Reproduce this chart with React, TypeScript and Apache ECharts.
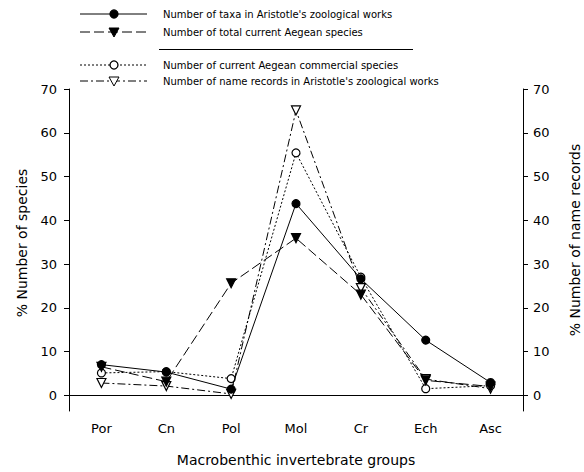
import React, { useEffect, useRef } from "react";
import * as echarts from "echarts";

const categories = ["Por", "Cn", "Pol", "Mol", "Cr", "Ech", "Asc"];
const taxaAristotle = [7.0, 5.3, 1.4, 43.8, 26.6, 12.6, 2.9];
const totalAegean = [6.5, 3.1, 25.6, 35.9, 23.0, 3.4, 2.0];
const commercialAegean = [5.1, 5.4, 3.8, 55.4, 27.0, 1.5, 2.2];
const nameRecords = [2.8, 2.1, 0.3, 65.1, 24.5, 3.7, 1.5];
const yTicks = [0, 10, 20, 30, 40, 50, 60, 70];
const legendNames = [
  "Number of taxa in Aristotle's zoological works",
  "Number of total current Aegean species",
  "Number of current Aegean commercial species",
  "Number of name records in Aristotle's zoological works",
];
const leftTitle = "% Number of species";
const rightTitle = "% Number of name records";
const xTitle = "Macrobenthic invertebrate groups";

const FONT = "DejaVu Sans";

export default function App() {
  const ref = useRef<HTMLDivElement>(null);
  useEffect(() => {
    if (!ref.current) return;
    const chart = echarts.init(ref.current, undefined, { renderer: "svg" });

    const rowsY = [14, 32, 65, 81];
    const styles = [
      { dash: "solid" as any, sym: "circle", fill: "#000" },
      { dash: [10, 4], sym: "tri", fill: "#000" },
      { dash: [2, 2], sym: "circle", fill: "#fff" },
      { dash: [8, 3, 2, 3], sym: "tri", fill: "#fff" },
    ];
    const graphics: any[] = [];
    legendNames.forEach((name, i) => {
      const y = rowsY[i];
      const st = styles[i];
      graphics.push({
        type: "line",
        shape: { x1: 80, y1: y, x2: 147, y2: y },
        style: { stroke: "#000", lineWidth: 1, lineDash: st.dash === "solid" ? null : st.dash },
      });
      if (st.sym === "circle") {
        graphics.push({
          type: "circle",
          shape: { cx: 114, cy: y, r: 4 },
          style: { fill: st.fill, stroke: "#000", lineWidth: 1.3 },
        });
      } else {
        graphics.push({
          type: "polygon",
          shape: { points: [[109, y - 4], [119, y - 4], [114, y + 5]] },
          style: { fill: st.fill, stroke: "#000", lineWidth: 1 },
        });
      }
      graphics.push({
        type: "text",
        x: 163,
        y: y,
        style: {
          text: name,
          fill: "#000",
          font: `10px '${FONT}'`,
          verticalAlign: "middle",
          align: "left",
        },
      });
    });
    graphics.push({
      type: "line",
      shape: { x1: 159, y1: 49.5, x2: 413, y2: 49.5 },
      style: { stroke: "#000", lineWidth: 1 },
    });
    graphics.push({
      type: "text",
      x: 22,
      y: 243,
      rotation: Math.PI / 2,
      style: { text: leftTitle, fill: "#000", font: `14px '${FONT}'`, align: "center", verticalAlign: "middle" },
    });
    graphics.push({
      type: "text",
      x: 575,
      y: 240,
      rotation: Math.PI / 2,
      style: { text: rightTitle, fill: "#000", font: `14px '${FONT}'`, align: "center", verticalAlign: "middle" },
    });

    const mkSeries = (data: number[], i: number, yAxisIndex: number) => {
      const st = styles[i];
      return {
        type: "line",
        name: legendNames[i],
        data,
        yAxisIndex,
        symbol: st.sym === "circle" ? "circle" : "triangle",
        symbolRotate: st.sym === "circle" ? 0 : 180,
        symbolSize: st.sym === "circle" ? 8 : 9,
        showAllSymbol: true,
        lineStyle: { color: "#000", width: 1, type: st.dash },
        itemStyle: { color: st.fill, borderColor: "#000", borderWidth: 1.2 },
        z: 10 - i,
      };
    };

    const yBase = {
      type: "value",
      min: -3.6,
      max: 70,
      splitLine: { show: false },
      axisLine: { show: true, lineStyle: { color: "#000", width: 1 } },
      axisTick: { show: true, inside: false, length: 5, customValues: yTicks, lineStyle: { color: "#000" } },
      axisLabel: { customValues: yTicks, color: "#000", fontFamily: FONT, fontSize: 13 },
    };

    chart.setOption({
      animation: false,
      backgroundColor: "#fff",
      grid: { left: 69, right: 61, top: 89, bottom: 58, containLabel: false },
      xAxis: {
        type: "category",
        data: categories,
        boundaryGap: true,
        axisLine: { lineStyle: { color: "#000", width: 1 } },
        axisTick: { alignWithLabel: true, length: 5, lineStyle: { color: "#000" } },
        axisLabel: { color: "#000", fontFamily: FONT, fontSize: 13, margin: 11 },
        name: xTitle,
        nameLocation: "middle",
        nameGap: 42,
        nameTextStyle: { color: "#000", fontFamily: FONT, fontSize: 14 },
      },
      yAxis: [
        { ...yBase, position: "left", axisLabel: { ...yBase.axisLabel, margin: 12 } },
        { ...yBase, position: "right", axisLabel: { ...yBase.axisLabel, margin: 10 } },
      ],
      series: [
        mkSeries(taxaAristotle, 0, 0),
        mkSeries(totalAegean, 1, 0),
        mkSeries(commercialAegean, 2, 0),
        mkSeries(nameRecords, 3, 1),
      ],
      graphic: graphics,
    });
    return () => chart.dispose();
  }, []);
  return <div ref={ref} style={{ width: 584, height: 472, position: "absolute", left: 0, top: 0 }} />;
}
